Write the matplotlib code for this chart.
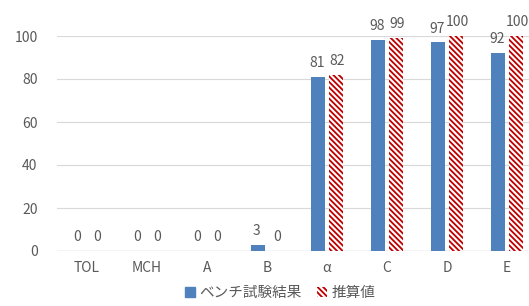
import matplotlib
matplotlib.use("Agg")
import matplotlib.pyplot as plt
import numpy as np
from matplotlib.patches import Patch

plt.rcParams['font.family'] = ['Noto Sans CJK JP', 'DejaVu Sans']
plt.rcParams['hatch.linewidth'] = 1.5

categories = ['TOL', 'MCH', 'A', 'B', 'α', 'C', 'D', 'E']
bench = [0, 0, 0, 3, 81, 98, 97, 92]
estimate = [0, 0, 0, 0, 82, 99, 100, 100]
series_names = ['ベンチ試験結果', '推算値']
yticks = [0, 20, 40, 60, 80, 100]

W, H = 529, 306
fig = plt.figure(figsize=(W / 100, H / 100), dpi=100)
left, right = 57, 529
bottom, top = 251, 36
ax = fig.add_axes([left / W, (H - bottom) / H, (right - left) / W, (bottom - top) / H])

x = np.arange(len(categories))
bw = 0.23
off = 0.15
blue = '#4F81BD'
red = '#C00000'
hatch = '\\' * 6
b1 = ax.bar(x - off, bench, bw, color=blue, zorder=3)
b2 = ax.bar(x + off, estimate, bw, facecolor=red, edgecolor='white', hatch=hatch, linewidth=0, zorder=3)

tc = '#595959'
for xi, v in zip(x, bench):
    ax.annotate(str(v), (xi - off - 0.02, v), xytext=(0, 5), textcoords='offset points',
                ha='center', va='bottom', fontsize=10, color=tc, annotation_clip=False)
for xi, v in zip(x, estimate):
    ax.annotate(str(v), (xi + off + 0.02, v), xytext=(0, 5), textcoords='offset points',
                ha='center', va='bottom', fontsize=10, color=tc, annotation_clip=False)

pw = (right - left)
ax.set_xlim(-0.5, -0.5 + pw / 60)
ax.set_ylim(0, 100)
ax.set_yticks(yticks)
ax.set_xticks(x)
ax.set_xticklabels(categories)
ax.tick_params(length=0, labelsize=10, colors=tc, pad=7)
ax.tick_params(axis='y', pad=14)
for s in ax.spines.values():
    s.set_visible(False)
ax.grid(axis='y', color='#D9D9D9', linewidth=0.8, zorder=0)
ax.axhline(0, color='#BFBFBF', linewidth=0.9, zorder=2)

handles = [Patch(facecolor=blue, edgecolor=blue),
           Patch(facecolor=red, edgecolor='white', hatch=hatch, linewidth=0)]
fig.legend(handles, series_names, loc='center', bbox_to_anchor=(280 / W, 1 - 293 / H),
           ncol=2, frameon=False, fontsize=10.5, handlelength=0.7, handleheight=0.7,
           handletextpad=0.3, columnspacing=1.0, labelcolor=tc)

fig.savefig('out.png', dpi=100)
